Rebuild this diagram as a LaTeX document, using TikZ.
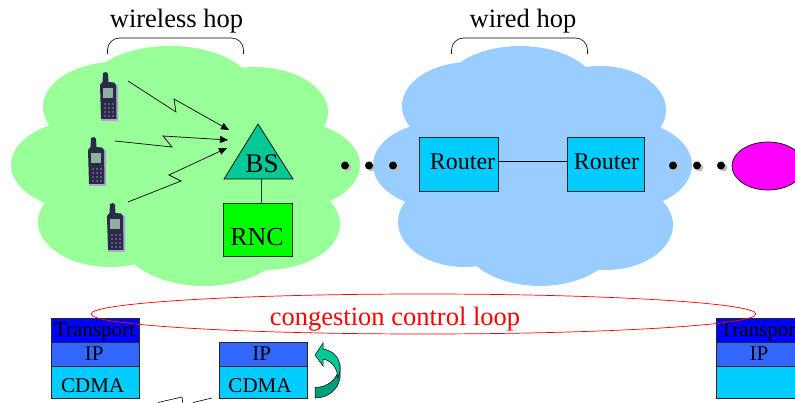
\documentclass[tikz,border=0pt]{standalone}
\usepackage{fontspec}
\setmainfont{Liberation Serif}
\usetikzlibrary{arrows.meta,shapes.geometric}
\definecolor{cloudgreen}{HTML}{99FF99}
\definecolor{cloudblue}{HTML}{99CCFF}
\definecolor{teal1}{HTML}{00C896}
\definecolor{teal2}{HTML}{009E78}
\definecolor{cyanbox}{HTML}{00CCFF}
\definecolor{ipblue}{HTML}{3366FF}
\definecolor{trblue}{HTML}{0000FF}
\definecolor{hostpink}{HTML}{FF00FF}
\definecolor{purebright}{HTML}{00FF00}
\definecolor{phonebody}{HTML}{2A2A48}
\definecolor{phoneshadow}{HTML}{A8A8D0}
\definecolor{phonescreen}{HTML}{8FB0A0}
\definecolor{phonekey}{HTML}{5A5A78}
\tikzset{
  x=1pt,y=-1pt,
  txt/.style={inner sep=0pt,anchor=base,text=black},
  big/.style={font=\fontsize{26.5}{30}\selectfont},
  mid/.style={font=\fontsize{24}{28}\selectfont},
  small/.style={font=\fontsize{21}{25}\selectfont},
  box/.style={draw=black!85,line width=0.8pt,inner sep=0pt,minimum width=#1},
  box/.default=88pt,
  radio/.style={line width=0.7pt,-{Triangle[length=8pt,width=7pt]}},
  dotm/.style={circle,fill=black,minimum size=8pt,inner sep=0pt},
  dots/.style={circle,fill=black!25,minimum size=8pt,inner sep=0pt},
  brace/.style={line width=0.6pt,rounded corners=12pt},
  phone/.pic={
    \fill[phoneshadow] (10,11) -- (18,13) -- (18,49) -- (1,49) -- (1,46) -- cycle;
    \fill[phonebody] (3,1) -- (6,0) -- (8,2) -- (8.5,10) -- (14,10.5) -- (16,13) -- (16.5,47) -- (1,47) -- (0,13) -- (2.5,10) -- cycle;
    \fill[phonescreen] (3,16.5) rectangle (13,26.5);
    \foreach \yy in {31,35,39,43}{\fill[phonekey] (3.5,\yy) rectangle (6,\yy+2); \fill[phonekey] (7.5,\yy) rectangle (10,\yy+2); \fill[phonekey] (11.5,\yy) rectangle (14,\yy+2);}
  }
}
\begin{document}
\begin{tikzpicture}
\useasboundingbox (0,0) rectangle (795,403);
\clip (0,0) rectangle (795,403);
% green cloud
\fill[cloudgreen]
  (85,165) ellipse [x radius=74,y radius=45]
  (115,107) ellipse [x radius=72,y radius=45]
  (170,92) ellipse [x radius=85,y radius=46]
  (255,112) ellipse [x radius=73,y radius=45]
  (285,165) ellipse [x radius=75,y radius=45]
  (265,224) ellipse [x radius=75,y radius=46]
  (110,222) ellipse [x radius=72,y radius=45]
  (204,235) ellipse [x radius=85,y radius=51];
\fill[cloudgreen] (100,110) rectangle (280,240);
% blue cloud
\fill[cloudblue]
  (445,165) ellipse [x radius=72,y radius=44]
  (470,106) ellipse [x radius=68,y radius=44]
  (520,95) ellipse [x radius=80,y radius=49]
  (600,110) ellipse [x radius=66,y radius=44]
  (620,165) ellipse [x radius=72,y radius=45]
  (605,225) ellipse [x radius=68,y radius=45]
  (465,222) ellipse [x radius=67,y radius=45]
  (540,235) ellipse [x radius=80,y radius=51];
\fill[cloudblue] (450,110) rectangle (620,240);
% hop labels and braces
\node[txt,big] (wl) at (176.5,28) {wireless hop};
\node[txt,big] (wd) at (523,28) {wired hop};
\draw[brace] (107.5,54) -- (107.5,38) -- (243.5,38) -- (243.5,54);
\draw[brace] (451.5,54) -- (451.5,38) -- (587.5,38) -- (587.5,54);
% phones
\pic at (100,72) {phone};
\pic at (88,137) {phone};
\pic at (107,203) {phone};
% base station
\coordinate (bsa) at (258,124);
\coordinate (bsl) at (224,179);
\coordinate (bsr) at (293,179);
\coordinate (bsb) at (261,179);
\node[box=69pt,fill=purebright,minimum height=53pt] (rnc) at (257.5,229.5) {};
\draw[black!60!teal2,line width=1pt] (bsb) -- (bsb |- rnc.north);
\draw[fill=teal1,line width=0.7pt] (bsa) -- (bsl) -- (bsr) -- cycle;
\node[txt,font=\fontsize{27}{30}\selectfont] (bs) at (262,173) {BS};
\node[txt,font=\fontsize{26}{30}\selectfont] (rnct) at (257,245.5) {RNC};
% radio links
\coordinate (p1) at (128,81); \coordinate (t1) at (229,130);
\coordinate (p2) at (115,141); \coordinate (t2) at (228,140);
\coordinate (p3) at (128,202); \coordinate (t3) at (227,148);
\draw[radio] (p1) -- (176,112) -- (174,99) -- (t1);
\draw[radio] (p2) -- (172,147) -- (163,136) -- (t2);
\draw[radio] (p3) -- (181,181) -- (169,175) -- (t3);
% routers
\node[box=79pt,fill=cyanbox,minimum height=54pt] (r1) at (458.5,164) {};
\node[box=77pt,fill=cyanbox,minimum height=54pt] (r2) at (605.5,164) {};
\draw[line width=0.8pt] ([yshift=3pt]r1.east) -- ([yshift=3pt]r2.west);
\node[txt,mid] (r1t) at (462.5,170) {Router};
\node[txt,mid] (r2t) at (606.5,170) {Router};
% dots
\foreach \xx/\nn in {345/a,369/b,393/c,673/d,697/e,721/f}{
  \node[dots] (s\nn) at (\xx+2.5,167.5) {};
  \node[dotm] (d\nn) at (\xx,165.5) {};
}
% host
\node[draw=black,line width=0.7pt,fill=hostpink,shape=ellipse,minimum width=72pt,minimum height=48pt,inner sep=0pt] (host) at (768,166) {};
% stacks
\node[box,fill=trblue,minimum height=24pt] (lt) at (95.5,330) {};
\node[box,fill=ipblue,minimum height=24.5pt] (li) at (95.5,354.2) {};
\node[box,fill=cyanbox,minimum height=31.5pt] (lc) at (95.5,382.2) {};
\node[box,fill=ipblue,minimum height=24.5pt] (mi) at (263.5,354.2) {};
\node[box,fill=cyanbox,minimum height=31.5pt] (mc) at (263.5,382.2) {};
\node[box,fill=trblue,minimum height=24pt] (rt) at (760,330) {};
\node[box,fill=ipblue,minimum height=24.5pt] (ri) at (760,354.2) {};
\node[box,fill=cyanbox,minimum height=31.5pt] (rc) at (760,382.2) {};
\node[txt,small] (ltt) at (94.6,336) {Transport};
\node[txt,small] (lit) at (94.3,360) {IP};
\node[txt,small] (lct) at (92.7,392) {CDMA};
\node[txt,small] (mit) at (261.7,360) {IP};
\node[txt,small] (mct) at (260,392) {CDMA};
\node[txt,small,anchor=base west] (rtt) at (720,336) {Transport};
\node[txt,small] (rit) at (759,360) {IP};
% bottom radio fragments
\draw[line width=0.6pt] (158,402.5) -- (182,397) -- (183,404);
\draw[line width=0.6pt] (193,402.5) -- (212,398);
% congestion loop
\draw[red,line width=0.7pt] (423.5,314) ellipse [x radius=332.5,y radius=20];
\node[txt,big,text=red] (cc) at (395,325) {congestion control loop};
% curved arrow
\fill[teal2,draw=black,line width=0.5pt] (315,387.5) .. controls (328,387) and (337,380) .. (340,366) -- (340,378) .. controls (338,390) and (328,398) .. (315,398) -- cycle;
\fill[teal1,draw=black,line width=0.5pt] (315,355) -- (323,343) -- (323,349) .. controls (334,351) and (340,358) .. (340,368) .. controls (340,372) and (339,376) .. (337.5,378) .. controls (338,370) and (333,361) .. (323,359) -- (323,366) -- cycle;
\end{tikzpicture}
\end{document}
